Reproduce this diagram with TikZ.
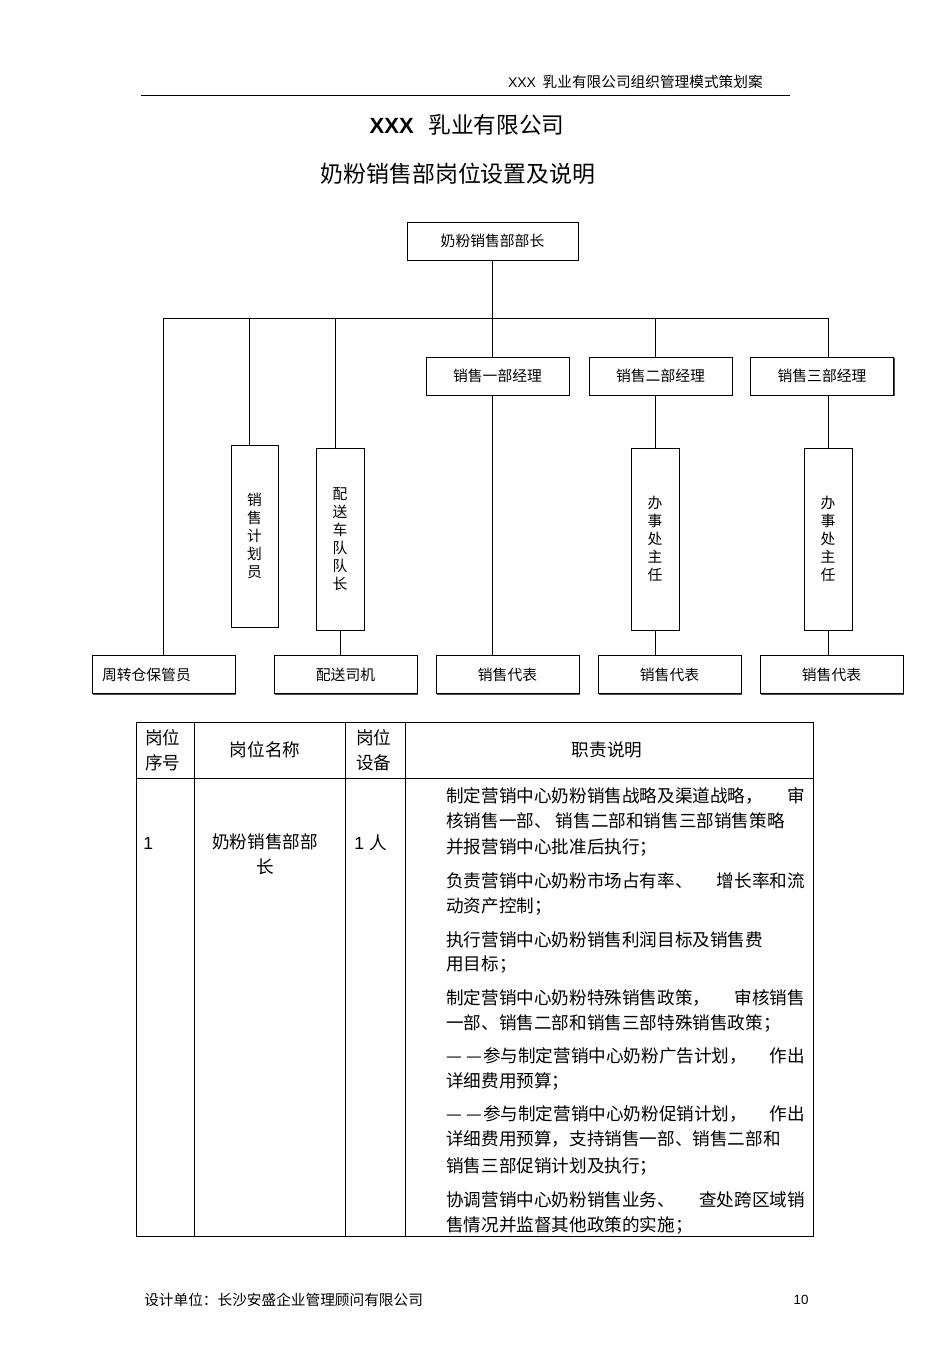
\documentclass[tikz,border=0pt]{standalone}
\usepackage{fontspec}
\setmainfont{Liberation Sans}
\newfontfamily\cjk{Noto Sans CJK SC}
\usetikzlibrary{positioning,calc,shadows}

\begin{document}
\begin{tikzpicture}[x=0.75pt,y=-0.75pt,
  post/.style={draw, fill=white, line width=0.6pt, inner sep=0pt,
    font=\cjk\fontsize{11.1}{13.5}\selectfont,
    drop shadow={shadow xshift=0.8pt,shadow yshift=-0.8pt,fill=black!70,opacity=1}},
  wide/.style={post, minimum width=107.25pt, minimum height=28.5pt},
  tall/.style={post, align=center, minimum width=36pt, minimum height=136.5pt},
  cell/.style={font=\cjk\fontsize{13.2}{18.75}\selectfont, inner sep=0pt},
  duty/.style={cell, anchor=west, text width=269pt, align=left},
  link/.style={line width=0.6pt}
]
\fill[white] (0,0) rectangle (950,1345);
\useasboundingbox (0,0) rectangle (950,1345);

% Page head
\node[anchor=east, inner sep=0pt, font=\cjk\fontsize{11}{13}\selectfont] (runhead) at (763,82)
  {{\rmfamily\fontsize{10.5}{13}\selectfont XXX}\hspace{5pt}乳业有限公司组织管理模式策划案};
\draw[line width=0.6pt] (141,95) -- (790,95);

% Titles
\node[inner sep=0pt, font=\cjk\fontsize{17}{20}\selectfont] (title) at (467,125)
  {{\rmfamily\bfseries\fontsize{16.5}{20}\selectfont XXX}\hspace{11pt}乳业有限公司};
\node[inner sep=0pt, font=\cjk\fontsize{17.2}{20}\selectfont] (subtitle) at (458,174)
  {奶粉销售部岗位设置及说明};

% Chart boxes
\node[post, minimum width=128.25pt, minimum height=28.5pt] (head) at (492.5,241) {奶粉销售部部长};
\node[wide] (m1) at (497.5,376) {销售一部经理};
\node[wide] (m2) at (660.5,376) {销售二部经理};
\node[wide] (m3) at (822,376) {销售三部经理};

\node[tall, minimum width=35.25pt] (planner) at (254.5,536) {销\\售\\计\\划\\员};
\node[tall] (fleet) at (340,539) {配\\送\\车\\队\\队\\长};
\node[tall] (office2) at (655,539) {办\\事\\处\\主\\任};
\node[tall] (office3) at (828,539) {办\\事\\处\\主\\任};

\node[wide, text width=92.25pt, inner xsep=7.5pt, align=left] (keeper) at (163.5,674.5) {周转仓保管员};
\node[wide] (driver) at (345.5,674.5) {配送司机};
\node[wide] (rep1) at (507.5,674.5) {销售代表};
\node[wide] (rep2) at (669.5,674.5) {销售代表};
\node[wide] (rep3) at (831.5,674.5) {销售代表};

% Connectors
\coordinate (busL) at (163,318);
\coordinate (busR) at (office3.north |- busL);
\draw[link] (busL) -- (busR);
\draw[link] (head.south) -- (head.south |- m1.north);
\draw[link] (keeper.north) -- (keeper.north |- busL);
\draw[link] ([xshift=-3.75pt]planner.north) -- ([xshift=-3.75pt]planner.north |- busL);
\draw[link] ([xshift=-3.75pt]fleet.north) -- ([xshift=-3.75pt]fleet.north |- busL);
\draw[link] (fleet.south) -- (fleet.south |- driver.north);
\draw[link] (head.south |- m1.south) -- (head.south |- rep1.north);
\foreach \o/\m/\r in {office2/m2/rep2, office3/m3/rep3}
{
\draw[link] (\o.north |- busL) -- (\o.north |- \m.north);
\draw[link] (\o.north |- \m.south) -- (\o.north);
\draw[link] (\o.south) -- (\o.south |- \r.north);
}

% Table grid
\draw[line width=0.7pt] (136,722) rectangle (813,1236);
\draw[line width=0.6pt] (136,778) -- (813,778);
\foreach \x in {194,345,405}
{
\draw[line width=0.6pt] (\x,722) -- (\x,1236);
}

% Table head
\node[cell, anchor=west, align=left] (hno) at (145,750) {岗位\\序号};
\node[cell] (hname) at (265,750) {岗位名称};
\node[cell, anchor=west, align=left] (hset) at (356,750) {岗位\\设备};
\node[cell] (hduty) at (607,750) {职责说明};

% Row 1
\node[cell, anchor=west] (rno) at (143,843) {\rmfamily 1};
\node[cell, align=center] (rname) at (265,854.5) {奶粉销售部部\\长};
\node[cell, anchor=west] (rset) at (354,843) {{\rmfamily 1}\hspace{4pt}人};

\foreach \y/\t in {
  796/{制定营销中心奶粉销售战略及渠道战略，\hfill 审},
  821/{核销售一部、\hspace{3pt}销售二部和销售三部销售策略},
  847/{并报营销中心批准后执行；},
  881/{负责营销中心奶粉市场占有率、\hfill 增长率和流},
  907/{动资产控制；},
  940/{执行营销中心奶粉销售利润目标及销售费},
  965/{用目标；},
  998/{制定营销中心奶粉特殊销售政策，\hfill 审核销售},
  1023/{一部、销售二部和销售三部特殊销售政策；},
  1056/{—\hspace{3pt}—\hspace{1pt}参与制定营销中心奶粉广告计划，\hfill 作出},
  1081/{详细费用预算；},
  1114/{—\hspace{3pt}—\hspace{1pt}参与制定营销中心奶粉促销计划，\hfill 作出},
  1139/{详细费用预算，支持销售一部、销售二部和},
  1166/{销售三部促销计划及执行；},
  1200/{协调营销中心奶粉销售业务、\hfill 查处跨区域销},
  1225/{售情况并监督其他政策的实施；}}
{
\node[duty] at (446,\y) {\t};
}

% Page foot
\node[anchor=west, inner sep=0pt, font=\cjk\fontsize{11}{13}\selectfont] (foot) at (144,1300)
  {设计单位：长沙安盛企业管理顾问有限公司};
\node[inner sep=0pt, font=\rmfamily\fontsize{10}{12}\selectfont] (pageno) at (801,1300) {10};

\end{tikzpicture}
\end{document}
